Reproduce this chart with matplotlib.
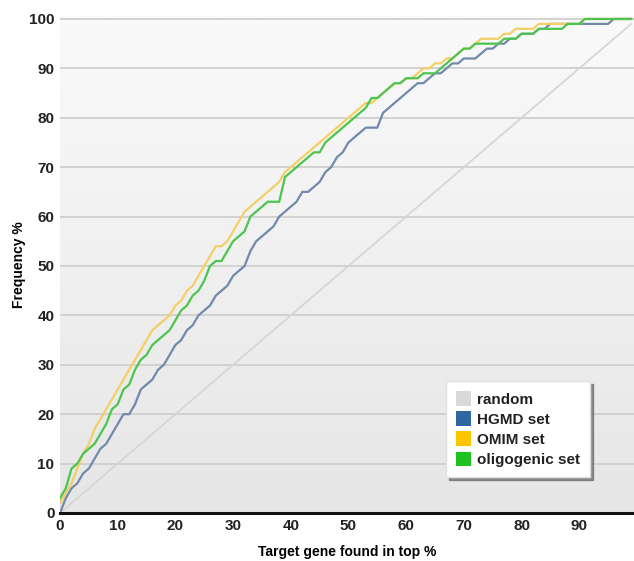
import numpy as np
import matplotlib
matplotlib.use("Agg")
import matplotlib.pyplot as plt
from matplotlib.patches import Patch

# percent of ranked list (x) vs. percent of target genes found (y)
top_pct = list(range(0, 100))

random_set = list(range(0, 100))

hgmd_set = [0, 3, 5, 6, 8, 9, 11, 13, 14, 16,
            18, 20, 20, 22, 25, 26, 27, 29, 30, 32,
            34, 35, 37, 38, 40, 41, 42, 44, 45, 46,
            48, 49, 50, 53, 55, 56, 57, 58, 60, 61,
            62, 63, 65, 65, 66, 67, 69, 70, 72, 73,
            75, 76, 77, 78, 78, 78, 81, 82, 83, 84,
            85, 86, 87, 87, 88, 89, 89, 90, 91, 91,
            92, 92, 92, 93, 94, 94, 95, 95, 96, 96,
            97, 97, 97, 98, 98, 99, 99, 99, 99, 99,
            99, 99, 99, 99, 99, 99, 100, 100, 100, 100]

omim_set = [2, 4, 6, 9, 12, 14, 17, 19, 21, 23,
            25, 27, 29, 31, 33, 35, 37, 38, 39, 40,
            42, 43, 45, 46, 48, 50, 52, 54, 54, 55,
            57, 59, 61, 62, 63, 64, 65, 66, 67, 69,
            70, 71, 72, 73, 74, 75, 76, 77, 78, 79,
            80, 81, 82, 83, 83, 84, 85, 86, 87, 87,
            88, 88, 89, 90, 90, 91, 91, 92, 92, 93,
            94, 94, 95, 96, 96, 96, 96, 97, 97, 98,
            98, 98, 98, 99, 99, 99, 99, 99, 99, 99,
            99, 100, 100, 100, 100, 100, 100, 100, 100, 100]

oligo_set = [3, 5, 9, 10, 12, 13, 14, 16, 18, 21,
             22, 25, 26, 29, 31, 32, 34, 35, 36, 37,
             39, 41, 42, 44, 45, 47, 50, 51, 51, 53,
             55, 56, 57, 60, 61, 62, 63, 63, 63, 68,
             69, 70, 71, 72, 73, 73, 75, 76, 77, 78,
             79, 80, 81, 82, 84, 84, 85, 86, 87, 87,
             88, 88, 88, 89, 89, 89, 90, 91, 92, 93,
             94, 94, 95, 95, 95, 95, 95, 96, 96, 96,
             97, 97, 97, 98, 98, 98, 98, 98, 99, 99,
             99, 100, 100, 100, 100, 100, 100, 100, 100, 100]

series_names = ["random", "HGMD set", "OMIM set", "oligogenic set"]
line_colors = ["#d6d6d6", "#7189ab", "#f3cf66", "#4dc44d"]
patch_colors = ["#d9d9d9", "#2f67a0", "#fcc500", "#1fc21f"]

plt.rcParams['font.family'] = ['Liberation Sans', 'DejaVu Sans']

fig = plt.figure(figsize=(6.34, 5.61), dpi=100)
ax = fig.add_axes([60 / 634, 48 / 561, 574 / 634, 497 / 561])

# soft vertical gradient behind the plot
grad = np.linspace(0, 1, 256).reshape(-1, 1)
ax.imshow(grad, extent=[0, 1, 0, 1], transform=ax.transAxes, aspect='auto',
          cmap=matplotlib.colors.LinearSegmentedColormap.from_list('bg', ['#e6e6e6', '#fafafa']),
          origin='lower', zorder=0)

for yv in range(10, 101, 10):
    ax.axhline(yv, color='#cfcfcf', lw=1.3, zorder=1)

ax.plot(top_pct, random_set, color=line_colors[0], lw=1.3, zorder=2)
ax.plot(top_pct, hgmd_set, color=line_colors[1], lw=1.6, zorder=3)
ax.plot(top_pct, omim_set, color=line_colors[2], lw=1.6, zorder=3)
ax.plot(top_pct, oligo_set, color=line_colors[3], lw=1.6, zorder=4)

ax.set_xlim(0, 99.5)
ax.set_ylim(0, 100.6)
ax.set_xticks(range(0, 100, 10))
ax.set_yticks(range(0, 101, 10))
ax.tick_params(length=0, labelsize=11, pad=4)
for lab in ax.get_xticklabels() + ax.get_yticklabels():
    lab.set_fontweight('bold')
    lab.set_color('#222222')

for s in ['top', 'right', 'left']:
    ax.spines[s].set_visible(False)
ax.spines['bottom'].set_linewidth(2.2)
ax.spines['bottom'].set_color('#111111')
ax.spines['bottom'].set_zorder(5)

ax.set_xlabel('Target gene found in top %', fontsize=10, fontweight='bold', labelpad=9)
ax.set_ylabel('Frequency %', fontsize=10, fontweight='bold', labelpad=2)

handles = [Patch(facecolor=c, edgecolor='none') for c in patch_colors]
leg = ax.legend(handles, series_names, loc='upper left', bbox_to_anchor=(0.672, 0.265),
                frameon=True, fancybox=False, shadow={'color': '#555555', 'alpha': 0.6},
                handlelength=1.0, handleheight=1.1, handletextpad=0.4,
                labelspacing=0.3, borderpad=0.65, borderaxespad=0,
                prop={'weight': 'bold', 'size': 11})
leg.get_frame().set_edgecolor('#e0e0e0')
leg.get_frame().set_facecolor('white')
leg.get_frame().set_alpha(1)
for t in leg.get_texts():
    t.set_color('#222222')

fig.savefig('out.png', dpi=100)
